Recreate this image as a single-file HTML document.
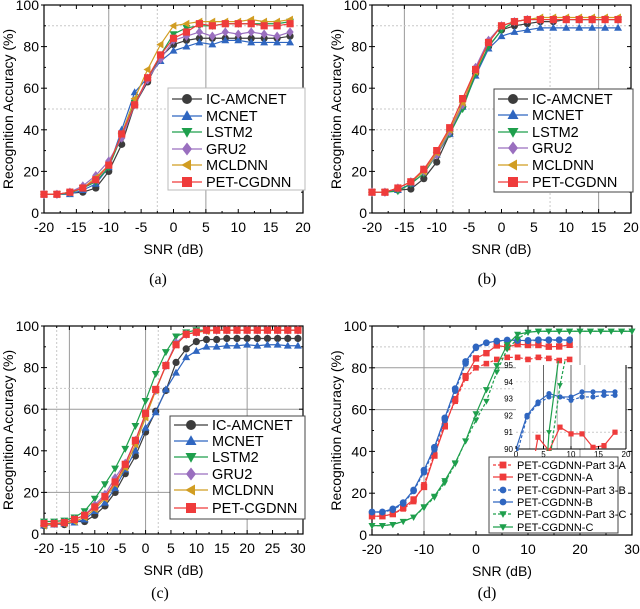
<!DOCTYPE html>
<html><head><meta charset="utf-8">
<style>
html,body{margin:0;padding:0;background:#fff;width:640px;height:609px;overflow:hidden;}
svg{display:block;font-family:"Liberation Sans",Arial,sans-serif;overflow:hidden;}
.cap{font-family:"Liberation Serif",serif;font-size:16px;}
</style></head>
<body>
<svg id="fig" width="640" height="609" viewBox="0 0 640 609" xmlns="http://www.w3.org/2000/svg"></svg>
<script>
// ---------- data ----------
const snrA = [-20,-18,-16,-14,-12,-10,-8,-6,-4,-2,0,2,4,6,8,10,12,14,16,18];
const snrC = [-20,-18,-16,-14,-12,-10,-8,-6,-4,-2,0,2,4,6,8,10,12,14,16,18,20,22,24,26,28,30];
const seriesNames = ["IC-AMCNET","MCNET","LSTM2","GRU2","MCLDNN","PET-CGDNN"];

const aIC    = [9,9,9.5,10,12,20,33,52,63,75,81,83,84,84,84,84,84,84,84,85];
const aMCNET = [9,9,9,11,14,22,40,58,65,73,78,80,82,81,83,83,82,82,82,82];
const aLSTM  = [9,9,9.5,12,15,22,37,53,64,76,86,89,90,90,91,91,91,91,91,92];
const aGRU   = [9,9,10,13,18,25,36,52,64,74,83,85,87,85,87,86,87,86,85,87];
const aMCL   = [9,9,10,12,17,23,38,55,69,81,90,91,92,92,92,92,93,92,92,93];
const aPET   = [9,9,10,12,16,23,38,52,65,76,84,87,91,90,91,91,91,90,90,91];

const bIC    = [10,10,11,11.5,16.5,24.5,38,51,67,80,88,90,91,92,92,93,93,93,93,93];
const bMCNET = [10,10,11,14,21,28,38,51,66,79,85,87,88,89,89,89,89,89,89,89];
const bLSTM  = [10,10,10.5,14,19,28,38,50,67,80,88,92,93,93,93,93,93,93,93,93];
const bGRU   = [10,10,12,15,20,28,39,52,70,83,90,92,93,93,93,93,93,93,93,93];
const bMCL   = [10,10,12,15,20,29,40,53,68,82,90,92,93,94,94,94,94,94,94,94];
const bPET   = [10,10,12,15,21,30,41,55,69,82,90,92,93,93,93,93,93,93,93,93];

const cIC    = [4,5,4.5,6,6,9,13.5,20,29,37.5,49,59,69,82.5,89,92.5,93.5,93.5,94,94,94,94,94,94,94,94];
const cMCNET = [4,4.5,5,5.5,7,11,15,22,31,40,51,58.5,69.5,77.5,85,88,90,90,90.5,90.5,91,90.5,91,91,90.5,90.5];
const cLSTM  = [6,6,6.5,8,11,17,24,31.5,41,52,64,77,87.5,95,97,98,98,98,98,98,98,98,98,98,98,98];
const cGRU   = [5,5,5.5,7,9,14,19,27,34,45,57,69,81,92,96,97,98,98,98,98,98,98,98,98,98,98];
const cMCL   = [4,5,5,6,8,12,17,24,32,43,56,69,81,91,96,97,97.5,98,98,98,98,98,98,98,98,98];
const cPET   = [5,5,5.5,7,9,13,18,25,33.5,45,58,69.5,81,91,96,97,98,98,98,98,98,98,98,98,98,98];

const dNames = ["PET-CGDNN-Part 3-A","PET-CGDNN-A","PET-CGDNN-Part 3-B","PET-CGDNN-B","PET-CGDNN-Part 3-C","PET-CGDNN-C"];
const dP3A = [9,9,10,12.5,16,24,39,53,64,75,80,82,84,85,85,84,85,84.5,83.5,84];
const dA   = [9,9,10,13,17,23,38,52,65,76,84.5,87,90.7,89.9,91.3,90.9,90.9,90.1,90.2,91];
const dP3B = [11,11,12,15,21,30,41,55,69,82,89.5,91.9,92.7,93.1,93.1,92.9,93.1,93.1,93.2,93.2];
const dB   = [11,11,12.5,15.5,21.5,31,42,56,70,83,90,92,92.8,93.3,93.1,93.1,93.4,93.4,93.4,93.4];
const dP3C = [4.5,4.5,5,6.5,8.5,13,18,25,34,45,55,64,78,89,93.8,97,97.5,97.5,97.5,97.5,97.5,97.5,97.5,97.5,97.5,97.5];
const dC   = [4.5,4.5,5,6.5,8.5,13.5,18.5,26,34.5,45,58,69.5,81,91,96,97,97.5,97.5,97.5,97.5,97.5,97.5,97.5,97.5,97.5,97.5];

const yTicks = [0,20,40,60,80,100];
const xTicks20 = [-20,-15,-10,-5,0,5,10,15,20];
const xTicks30 = [-20,-15,-10,-5,0,5,10,15,20,25,30];
const xTicks30d = [-20,-10,0,10,20,30];
const insetXTicks = [0,5,10,15,20];
const insetYTicks = [90,91,92,93,94,95];

// ---------- styles ----------
const C = {ic:"#3c3c3c", mc:"#2f66c0", ls:"#1e9f4c", gr:"#9a6fbf", ml:"#d19d22", pe:"#ef3b3b"};
const styleStd = [
  {c:C.ic,m:"circle"},{c:C.mc,m:"tri"},{c:C.ls,m:"tridown"},
  {c:C.gr,m:"diamond"},{c:C.ml,m:"trileft"},{c:C.pe,m:"square"}];

const NS="http://www.w3.org/2000/svg";
const fig=document.getElementById('fig');
function el(tag,attrs,parent){const e=document.createElementNS(NS,tag);for(const k in attrs)e.setAttribute(k,attrs[k]);(parent||fig).appendChild(e);return e;}

function marker(g,type,x,y,r,color){
  let e;
  if(type==="circle") e=el('circle',{cx:x,cy:y,r:r,fill:color},g);
  else if(type==="square") e=el('rect',{x:x-r,y:y-r,width:2*r,height:2*r,fill:color},g);
  else {
    let p;
    if(type==="tri") p=[[x,y-r*1.15],[x-r*1.1,y+r*0.8],[x+r*1.1,y+r*0.8]];
    else if(type==="tridown") p=[[x,y+r*1.15],[x-r*1.1,y-r*0.8],[x+r*1.1,y-r*0.8]];
    else if(type==="trileft") p=[[x-r*1.15,y],[x+r*0.8,y-r*1.1],[x+r*0.8,y+r*1.1]];
    else p=[[x,y-r*1.3],[x+r,y],[x,y+r*1.3],[x-r,y]];
    e=el('polygon',{points:p.map(q=>q.join(',')).join(' '),fill:color},g);
  }
  return e;
}

function panel(cfg){
  const {L,R,T,B,xmin,xmax,xticks,id}=cfg;
  const sx=v=>L+(v-xmin)/(xmax-xmin)*(R-L);
  const sy=v=>B-(v/100)*(B-T);
  const g=el('g',{});
  
  
  cfg.vgrid.forEach(([v,dash])=>{const l=el('line',{x1:sx(v),x2:sx(v),y1:T,y2:B,stroke:dash?"#c8c8c8":"#9a9a9a","stroke-width":1,"stroke-dasharray":dash?"2,2":"none"},g);});
  cfg.hgrid.forEach(([v,dash])=>{const l=el('line',{x1:L,x2:R,y1:sy(v),y2:sy(v),stroke:dash?"#c8c8c8":"#9a9a9a","stroke-width":1,"stroke-dasharray":dash?"2,2":"none"},g);});
  const fr=el('rect',{x:L,y:T,width:R-L,height:B-T,fill:"none",stroke:"#000","stroke-width":1.2},g);
  
  
  xticks.forEach(v=>{
    el('line',{x1:sx(v),x2:sx(v),y1:B,y2:B-4,stroke:"#000"},g);
    el('line',{x1:sx(v),x2:sx(v),y1:T,y2:T+4,stroke:"#000"},g);
    const t=el('text',{x:sx(v),y:B+19,"text-anchor":"middle","font-size":"14"},g);t.textContent=v;
    
    
  });
  for(let i=0;i<xticks.length-1;i++){const m=(xticks[i]+xticks[i+1])/2;el('line',{x1:sx(m),x2:sx(m),y1:B,y2:B-2,stroke:"#000"},g);el('line',{x1:sx(m),x2:sx(m),y1:T,y2:T+2,stroke:"#000"},g);}
  yTicks.forEach(v=>{
    el('line',{x1:L-3,x2:L+3,y1:sy(v),y2:sy(v),stroke:"#000"},g);
    el('line',{x1:R,x2:R-4,y1:sy(v),y2:sy(v),stroke:"#000"},g);
    const t=el('text',{x:L-5,y:sy(v)+5,"text-anchor":"end","font-size":"14"},g);t.textContent=v;
    
    
  });
  for(let v=10;v<100;v+=20){el('line',{x1:L,x2:L+2,y1:sy(v),y2:sy(v),stroke:"#000"},g);el('line',{x1:R,x2:R-2,y1:sy(v),y2:sy(v),stroke:"#000"},g);}
  const xt=el('text',{x:(L+R)/2,y:B+41,"text-anchor":"middle","font-size":"14"},g);xt.textContent="SNR (dB)";
  
  
  const yx=L-31, yy=(T+B)/2;
  const yt=el('text',{x:yx,y:yy,"text-anchor":"middle","font-size":"14",transform:`rotate(-90 ${yx} ${yy})`},g);yt.textContent="Recognition Accuracy (%)";
  
  
  const cp=el('text',{x:cfg.capX,y:cfg.capY,"text-anchor":"middle",class:"cap"},g);cp.textContent=cfg.cap;
  
  
  cfg.series.forEach(s=>{
    const sg=el('g',{},g);
    
    
    const pts=s.y.map((v,i)=>[sx(s.x[i]),sy(v)]);
    el('polyline',{points:pts.map(p=>p.join(',')).join(' '),fill:"none",stroke:s.c,"stroke-width":s.lw||1.2,"stroke-dasharray":s.dash||"none"},sg);
    pts.forEach(p=>{const m=marker(sg,s.m,p[0],p[1],s.r||3.6,s.c);});
  });
  return {g,sx,sy};
}

function legend(g,x0,y0,w,h,rows,entries,opts){
  const lg=el('g',{},g);
  
  
  el('rect',{x:x0,y:y0,width:w,height:h,fill:"#fff",stroke:opts.border||"#666","stroke-width":1},lg);
  entries.forEach((e,i)=>{
    const y=rows[i];
    const eg=el('g',{},lg);
    
    
    el('line',{x1:x0+4,x2:x0+opts.lineW,y1:y,y2:y,stroke:e.c,"stroke-width":1.2,"stroke-dasharray":e.dash||"none"},eg);
    marker(eg,e.m,x0+4+(opts.lineW-4)/2,y,opts.mr,e.c);
    const t=el('text',{x:x0+opts.lineW+4,y:y+opts.fs*0.36,"font-size":opts.fs},eg);t.textContent=e.name;
  });
}

function stdSeries(x,arrs){return arrs.map((a,i)=>({name:seriesNames[i],x:x,y:a,c:styleStd[i].c,m:styleStd[i].m}));}

const pa=panel({id:"a",L:44,R:303,T:5,B:213,xmin:-20,xmax:20,xticks:xTicks20,
  vgrid:[[-10,0],[5,0],[-2.5,1]],hgrid:[[90,1],[50,1]],cap:"(a)",capX:158,capY:284,
  series:stdSeries(snrA,[aIC,aMCNET,aLSTM,aGRU,aMCL,aPET])});
legend(pa.g,168,88,137,102,[99,116,132,149,165,182],stdSeries(snrA,[aIC,aMCNET,aLSTM,aGRU,aMCL,aPET]),{lineW:34,mr:5,fs:14.5,border:"#bbb"});

const pb=panel({id:"b",L:372,R:631,T:5,B:213,xmin:-20,xmax:20,xticks:xTicks20,
  vgrid:[[-15,0],[15,0],[-7.5,1],[7.5,1]],hgrid:[[90,1],[50,1],[40,1]],cap:"(b)",capX:487,capY:284,
  series:stdSeries(snrA,[bIC,bMCNET,bLSTM,bGRU,bMCL,bPET])});
legend(pb.g,494,89,139,103,[99,115,132,148,165,182],stdSeries(snrA,[bIC,bMCNET,bLSTM,bGRU,bMCL,bPET]),{lineW:34,mr:5,fs:14.5,border:"#444"});

const pc=panel({id:"c",L:44,R:303,T:326,B:534,xmin:-20,xmax:31,xticks:xTicks30,
  vgrid:[[-15,0],[0,0],[20,0],[-17.5,1],[2.5,1]],hgrid:[[60,0],[20,0],[70,1]],cap:"(c)",capX:160,capY:598,
  series:stdSeries(snrC,[cIC,cMCNET,cLSTM,cGRU,cMCL,cPET])});
legend(pc.g,170,416,135,103,[425,441,457,474,490,508],stdSeries(snrC,[cIC,cMCNET,cLSTM,cGRU,cMCL,cPET]),{lineW:38,mr:5,fs:14.5,border:"#444"});

const dSeries=[
  {name:dNames[0],x:snrA,y:dP3A,c:C.pe,m:"square",dash:"3,2",r:2.8},
  {name:dNames[1],x:snrA,y:dA,c:C.pe,m:"square",r:3.2},
  {name:dNames[2],x:snrA,y:dP3B,c:C.mc,m:"circle",dash:"3,2",r:3.2},
  {name:dNames[3],x:snrA,y:dB,c:C.mc,m:"circle",r:3.4},
  {name:dNames[4],x:snrC,y:dP3C,c:C.ls,m:"tridown",dash:"3,2",r:3},
  {name:dNames[5],x:snrC,y:dC,c:C.ls,m:"tridown",r:3.2}];
const pd=panel({id:"d",L:372,R:632,T:326,B:535,xmin:-20,xmax:30,xticks:xTicks30d,
  vgrid:[[-10,0],[20,0]],hgrid:[[80,0],[60,0],[90,1],[70,1]],cap:"(d)",capX:487,capY:598,
  series:dSeries});

(function(){
  const L=516,R=626,T=365,B=449;
  const ix=v=>L+(v-0)/20*(R-L);
  const iy=v=>B-(v-90)/5*(B-T);
  const g=el('g',{},pd.g);
  
  
  el('rect',{x:L,y:T,width:R-L,height:B-T,fill:"#fff"},g);
  [[5,"#666"],[10,"#666"],[2.5,"#bbb"],[7.5,"#bbb"],[12.5,"#bbb"]].forEach(([v,c])=>el('line',{x1:ix(v),x2:ix(v),y1:T,y2:B,stroke:c},g));
  [[91,"#ccc"],[94,"#ddd"]].forEach(([v,c])=>el('line',{x1:L,x2:R,y1:iy(v),y2:iy(v),stroke:c,"stroke-dasharray":"2,2"},g));
  el('line',{x1:L,x2:R,y1:B,y2:B,stroke:"#000"},g);
  el('line',{x1:R,x2:R,y1:T,y2:B,stroke:"#000"},g);
  const cp=el('clipPath',{id:"insetClip"},g);
  el('rect',{x:L,y:T-4,width:R-L,height:B-T+6},cp);
  const sg=el('g',{"clip-path":"url(#insetClip)"},g);
  dSeries.forEach(s=>{
    const ser=el('g',{},sg);
    
    
    const pts=[];s.y.forEach((v,i)=>{if(s.x[i]>=0&&s.x[i]<=20)pts.push([ix(s.x[i]),iy(v)]);});
    el('polyline',{points:pts.map(p=>p.join(',')).join(' '),fill:"none",stroke:s.c,"stroke-width":1.2,"stroke-dasharray":s.dash||"none"},ser);
    pts.forEach(p=>{if(p[1]>=T-3&&p[1]<=B+2)marker(ser,s.m,p[0],p[1],2.6,s.c);});
  });
  insetXTicks.forEach(v=>{el('line',{x1:ix(v),x2:ix(v),y1:B,y2:B-3,stroke:"#000"},g);const t=el('text',{x:ix(v),y:B+8,"text-anchor":"middle","font-size":"8"},g);t.textContent=v;});
  insetYTicks.forEach(v=>{const t=el('text',{x:L-3,y:iy(v)+3,"text-anchor":"end","font-size":"8"},g);t.textContent=v;});
})();
legend(pd.g,489,457,129,76,[465,477,490,502,514,527],dSeries,{lineW:24,mr:3.4,fs:11,border:"#444"});
</script>
</body></html>
